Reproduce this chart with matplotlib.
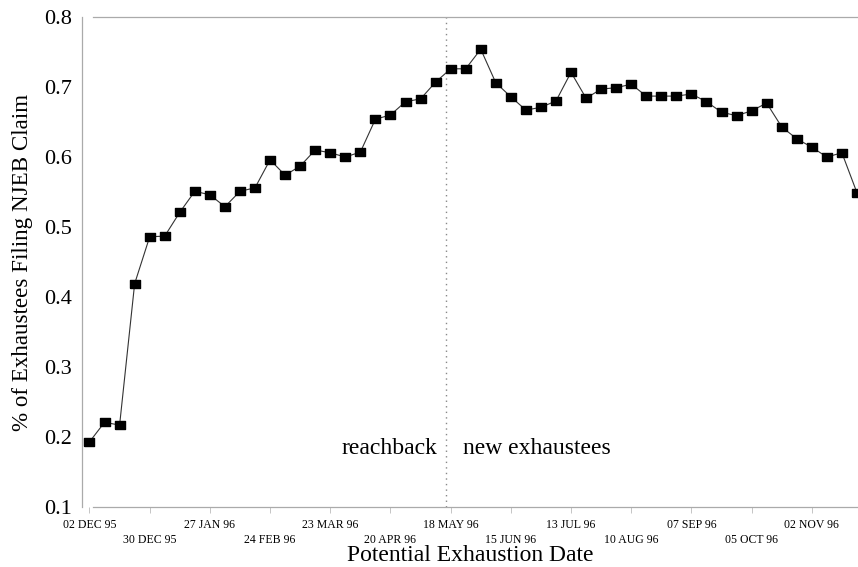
import matplotlib
matplotlib.use("Agg")
import matplotlib.pyplot as plt

plt.rcParams['font.family'] = ['Liberation Serif', 'DejaVu Serif']

# weekly filing rates, first week = 02 DEC 95
rates = [0.193, 0.221, 0.217, 0.419, 0.486, 0.487, 0.521, 0.551, 0.546, 0.529,
         0.551, 0.556, 0.596, 0.574, 0.587, 0.610, 0.606, 0.600, 0.607, 0.654,
         0.660, 0.679, 0.683, 0.707, 0.726, 0.726, 0.754, 0.706, 0.686, 0.667,
         0.671, 0.680, 0.721, 0.684, 0.697, 0.699, 0.704, 0.687, 0.687, 0.687,
         0.690, 0.679, 0.664, 0.659, 0.666, 0.677, 0.643, 0.626, 0.614, 0.600,
         0.606, 0.549]
tick_labels = ["02 DEC 95", "30 DEC 95", "27 JAN 96", "24 FEB 96", "23 MAR 96",
               "20 APR 96", "18 MAY 96", "15 JUN 96", "13 JUL 96", "10 AUG 96",
               "07 SEP 96", "05 OCT 96", "02 NOV 96"]
y_ticks = [0.1, 0.2, 0.3, 0.4, 0.5, 0.6, 0.7, 0.8]
split_week = 23.69

weeks = list(range(len(rates)))

fig = plt.figure(figsize=(8.58, 5.67), dpi=100)
ax = fig.add_axes([82/858, 1-507/567, 1-82/858, (507-17)/567])

ax.plot(weeks, rates, color='#333333', linewidth=0.8, zorder=2)
rect = [(-1, -0.72), (1, -0.72), (1, 0.72), (-1, 0.72), (-1, -0.72)]
ax.plot(weeks, rates, linestyle='none', marker=rect, markersize=7.6,
        color='black', zorder=3)

ax.axvline(split_week, color='#888888', linestyle=(0, (1, 3)), linewidth=1.0, zorder=1)
ax.text(split_week - 0.55, 0.175, "reachback", ha='right', va='baseline', fontsize=17)
ax.text(split_week + 1.1, 0.175, "new exhaustees", ha='left', va='baseline', fontsize=17)

ax.set_xlim(-0.498, 51.07)
ax.set_ylim(0.1, 0.8)

ax.set_yticks(y_ticks)
ax.set_yticklabels([f"{v:.1f}" for v in y_ticks], fontsize=16)
ax.tick_params(axis='y', length=0, pad=7)

tick_pos = [4 * i for i in range(len(tick_labels))]
ax.set_xticks(tick_pos)
ax.set_xticklabels([lab if i % 2 == 0 else "\n" + lab for i, lab in enumerate(tick_labels)],
                   fontsize=8.5, linespacing=1.27)
ax.tick_params(axis='x', length=4, width=0.6, color='#bbbbbb', pad=5, direction='out')

for s in ['left', 'top', 'bottom']:
    ax.spines[s].set_color('#aaaaaa')
    ax.spines[s].set_linewidth(0.9)
ax.spines['right'].set_visible(False)
ax.spines['top'].set_bounds(0.23, 51.07)
ax.spines['bottom'].set_bounds(0.23, 51.07)

ax.set_xlabel("Potential Exhaustion Date", fontsize=17, labelpad=-1)
ax.set_ylabel("% of Exhaustees Filing NJEB Claim", fontsize=16.6, labelpad=8)

fig.savefig("out.png", dpi=100)
